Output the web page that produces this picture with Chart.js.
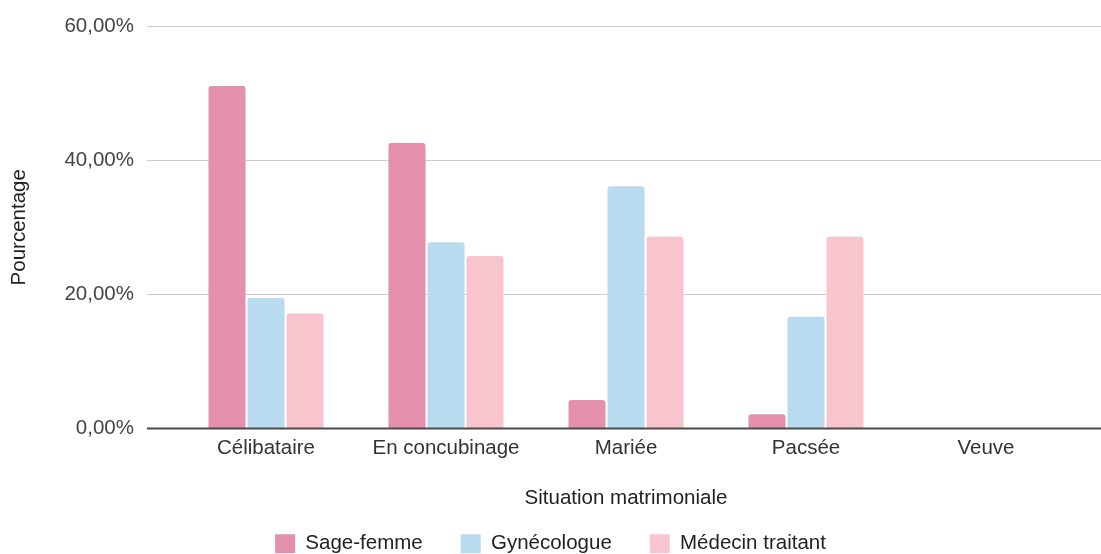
<!DOCTYPE html>
<html>
<head>
<meta charset="utf-8">
<script src="https://cdn.jsdelivr.net/npm/chart.js@4"></script>
<style>
  html, body { margin: 0; padding: 0; background: #fff; }
  #wrap { width: 1101px; height: 554px; }
</style>
</head>
<body>
<div id="wrap"><canvas id="chart" width="1101" height="554"></canvas></div>
<script>
// Données
const categories = ['Célibataire', 'En concubinage', 'Mariée', 'Pacsée', 'Veuve'];
const sageFemme = [51.06, 42.55, 4.26, 2.13, 0];
const gynecologue = [19.44, 27.78, 36.11, 16.67, 0];
const medecinTraitant = [17.14, 25.71, 28.57, 28.57, 0];
const yTicks = [0, 20, 40, 60];

const FONT = 'Liberation Sans, Arial, sans-serif';

// Lignes de grille sur toute la largeur + ligne du zéro
const fullGrid = {
    id: 'fullGrid',
    beforeDatasetsDraw(chart) {
        const ctx = chart.ctx;
        const y = chart.scales.y;
        ctx.save();
        ctx.strokeStyle = '#cccccc';
        ctx.lineWidth = 1;
        y.ticks.forEach(t => {
            if (t.value === 0) return;
            const py = Math.round(y.getPixelForValue(t.value)) + 0.5;
            ctx.beginPath();
            ctx.moveTo(chart.chartArea.left - 29, py);
            ctx.lineTo(chart.width, py);
            ctx.stroke();
        });
        ctx.restore();
    },
    afterDatasetsDraw(chart) {
        const ctx = chart.ctx;
        const y = chart.scales.y;
        const py = y.getPixelForValue(0);
        ctx.save();
        ctx.strokeStyle = '#4a4a4a';
        ctx.lineWidth = 2;
        ctx.beginPath();
        ctx.moveTo(chart.chartArea.left - 29, py);
        ctx.lineTo(chart.width, py);
        ctx.stroke();
        ctx.restore();
    }
};

const barStyle = {
    borderRadius: { topLeft: 3, topRight: 3 },
    borderSkipped: 'start',
    categoryPercentage: 0.65,
    barPercentage: 0.95
};

new Chart(document.getElementById('chart'), {
    type: 'bar',
    data: {
        labels: categories,
        datasets: [
            Object.assign({ label: 'Sage-femme', data: sageFemme, backgroundColor: '#e48fab' }, barStyle),
            Object.assign({ label: 'Gynécologue', data: gynecologue, backgroundColor: '#b8dbf0' }, barStyle),
            Object.assign({ label: 'Médecin traitant', data: medecinTraitant, backgroundColor: '#f8c5ce' }, barStyle)
        ]
    },
    options: {
        responsive: false,
        animation: false,
        layout: { padding: { top: 26, left: 0, right: 0, bottom: 0 } },
        plugins: {
            tooltip: { enabled: false },
            legend: {
                position: 'bottom',
                maxHeight: 58.5,
                labels: {
                    boxWidth: 20,
                    boxHeight: 19,
                    padding: 38,
                    color: '#222',
                    font: { family: FONT, size: 20.5 }
                }
            }
        },
        scales: {
            x: {
                grid: { display: false, drawTicks: false },
                border: { display: false },
                ticks: { color: '#333', padding: 8, font: { family: FONT, size: 20.5 } },
                title: {
                    display: true,
                    text: 'Situation matrimoniale',
                    color: '#222',
                    font: { family: FONT, size: 20.5 },
                    padding: { top: 0, bottom: -14.8 }
                },
                afterFit(scale) { scale.height = 67; }
            },
            y: {
                min: 0,
                max: 60,
                afterBuildTicks(scale) { scale.ticks = yTicks.map(v => ({ value: v })); },
                grid: { display: false, drawTicks: true, tickLength: 30 },
                border: { display: false },
                ticks: {
                    color: '#444',
                    padding: 12,
                    font: { family: FONT, size: 20.5 },
                    callback: v => v.toFixed(2).replace('.', ',') + '%'
                },
                title: {
                    display: true,
                    text: 'Pourcentage',
                    color: '#222',
                    font: { family: FONT, size: 20.5 },
                    padding: { top: 6.7, bottom: 0 }
                },
                afterFit(scale) { scale.width = 176; }
            },
            y2: {
                position: 'right',
                min: 0,
                max: 60,
                grid: { display: false, drawTicks: false },
                border: { display: false },
                ticks: { display: false },
                afterFit(scale) { scale.width = 25; }
            }
        }
    },
    plugins: [fullGrid]
});
</script>
</body>
</html>
